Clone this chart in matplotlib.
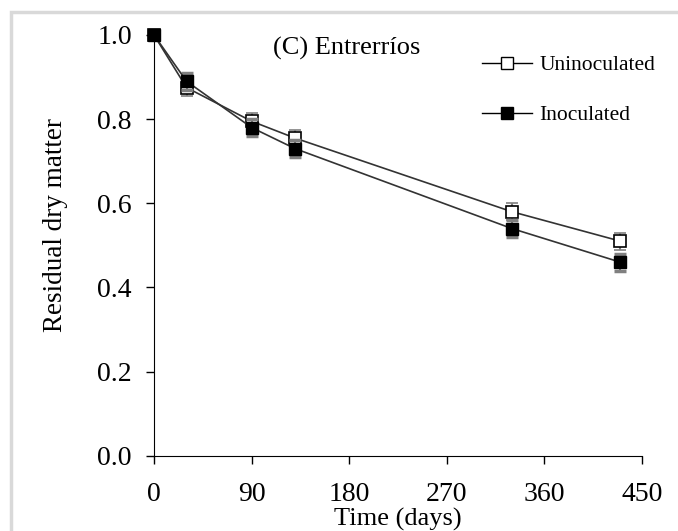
import matplotlib.pyplot as plt
from matplotlib.patches import Rectangle
from matplotlib.lines import Line2D

plt.rcParams['font.family'] = ['Liberation Serif', 'DejaVu Serif']

# data
days = [0, 30, 90, 130, 330, 430]
uninoculated = [1.0, 0.875, 0.795, 0.755, 0.58, 0.51]
uninoc_err = [0.01, 0.02, 0.02, 0.02, 0.02, 0.02]
inoculated = [1.0, 0.89, 0.78, 0.73, 0.54, 0.46]
inoc_err = [0.01, 0.02, 0.02, 0.02, 0.02, 0.02]

xticks = [0, 90, 180, 270, 360, 450]
yticks = [0.0, 0.2, 0.4, 0.6, 0.8, 1.0]

W, H = 678, 531
fig = plt.figure(figsize=(W / 100, H / 100), dpi=100)
ax = fig.add_axes([154 / W, (H - 455.7) / H, 488 / W, 420.7 / H])

# light grey border (image is cropped: only left and top edges show)
fig.patches.append(Rectangle((11 / W, -0.1), 1.2, (H - 12) / H + 0.1,
                             transform=fig.transFigure, fill=False,
                             edgecolor='#d9d9d9', linewidth=2.5))

ax.errorbar(days, uninoculated, yerr=uninoc_err, color='#333333', lw=1.2,
            marker='s', ms=8, mfc='white', mec='black', mew=1.2,
            ecolor='#808080', elinewidth=1.5, capsize=4.5, capthick=2.5,
            clip_on=False, zorder=3)
ax.errorbar(days, inoculated, yerr=inoc_err, color='#333333', lw=1.2,
            marker='s', ms=8, mfc='black', mec='black',
            ecolor='#808080', elinewidth=1.5, capsize=4.5, capthick=2.5,
            clip_on=False, zorder=4)

ax.set_xlim(0, 450)
ax.set_ylim(0, 1.0)
ax.set_xticks(xticks)
ax.set_yticks(yticks)
ax.set_yticklabels(['%.1f' % v for v in yticks])
ax.spines['top'].set_visible(False)
ax.spines['right'].set_visible(False)
ax.tick_params(direction='out', length=5.5, labelsize=20, width=1)
ax.tick_params(axis='x', pad=13.5)
ax.tick_params(axis='y', pad=10.5)

ax.set_xlabel('Time (days)', fontsize=19)
ax.xaxis.set_label_coords(0.5, -0.125)
ax.set_ylabel('Residual dry matter', fontsize=19.5)
ax.yaxis.set_label_coords(-0.176, 0.548)
ax.text(0.244, 0.967, '(C) Entrerríos', transform=ax.transAxes,
        fontsize=19, ha='left', va='center')

handles = [
    Line2D([], [], color='black', lw=1, marker='s', ms=8, mfc='white', mec='black'),
    Line2D([], [], color='black', lw=1, marker='s', ms=8, mfc='black', mec='black'),
]
ax.legend(handles, ['Uninoculated', 'Inoculated'], loc='upper left',
          bbox_to_anchor=(482 / W, 1 - 55 / H), bbox_transform=fig.transFigure,
          frameon=False, fontsize=15.5, borderpad=0, borderaxespad=0,
          handlelength=2.3, labelspacing=1.4, handletextpad=0.37)

fig.savefig('out.png', dpi=100)
